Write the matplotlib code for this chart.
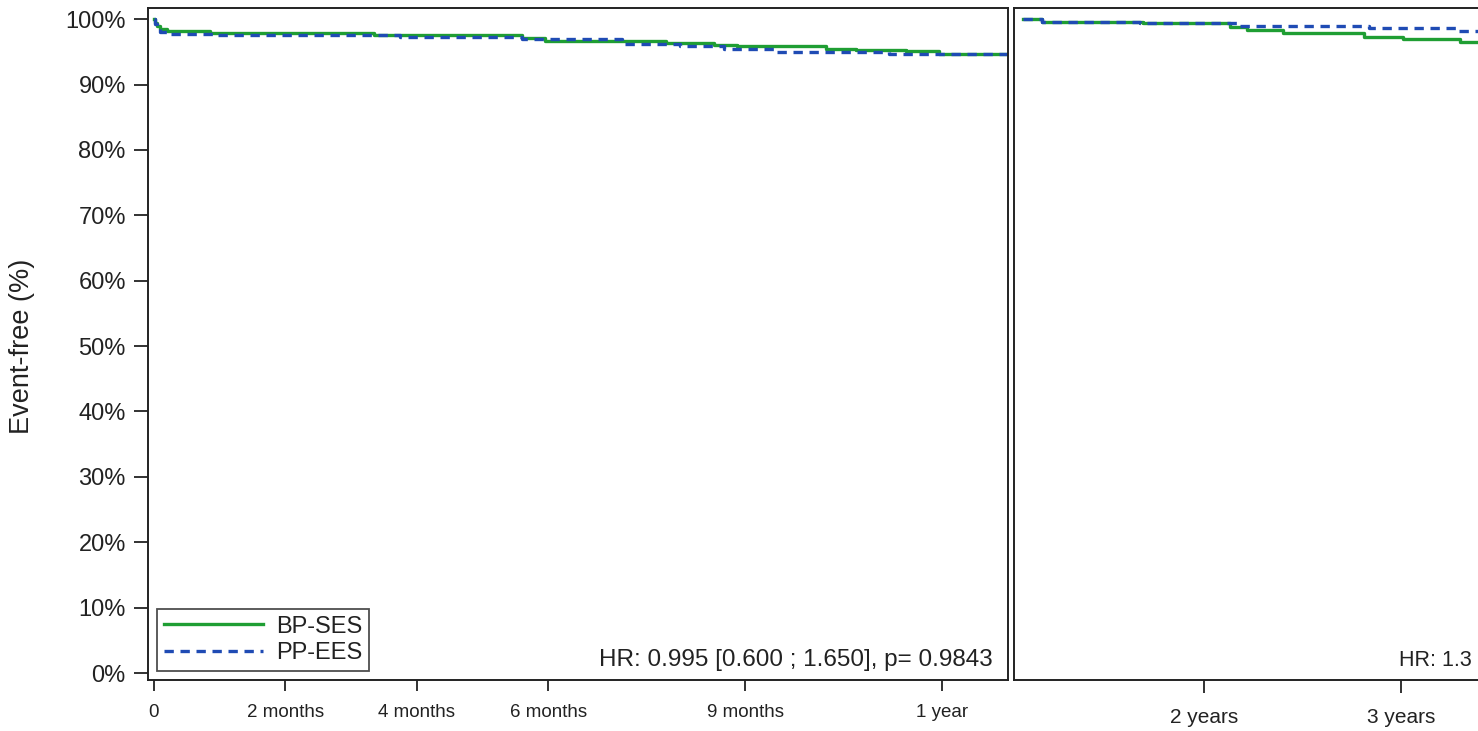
import matplotlib
matplotlib.use("Agg")
import matplotlib.pyplot as plt

plt.rcParams['font.family'] = ['Liberation Sans', 'DejaVu Sans']

# ---------------- data ----------------
# Left panel: time in months
ses_t_m = [0, 0.02, 0.05, 0.1, 0.2, 0.85, 3.35, 5.6, 5.95, 7.8, 8.53, 8.88, 10.23, 10.68, 11.44, 11.95, 13.0]
ses_s_m = [100, 99.4, 98.9, 98.5, 98.25, 97.85, 97.55, 97.15, 96.6, 96.3, 96.0, 95.85, 95.5, 95.3, 95.1, 94.65, 94.65]
ees_t_m = [0, 0.02, 0.05, 0.1, 0.25, 0.9, 3.75, 5.6, 7.13, 8.0, 8.68, 9.47, 11.19, 13.0]
ees_s_m = [100, 99.2, 98.6, 98.1, 97.7, 97.5, 97.2, 96.9, 96.2, 95.85, 95.45, 94.95, 94.7, 94.7]

# Right panel (landmark after 13 months): time in years
ses_t_y = [1.083, 1.18, 1.69, 2.13, 2.22, 2.40, 2.81, 3.01, 3.30, 4.0]
ses_s_y = [100, 99.6, 99.35, 98.85, 98.3, 97.9, 97.3, 96.9, 96.5, 96.5]
ees_t_y = [1.083, 1.18, 1.675, 2.18, 2.84, 3.28, 4.0]
ees_s_y = [100, 99.6, 99.35, 98.9, 98.7, 98.2, 98.2]

left_xticks = [0, 2, 4, 6, 9, 12]
left_xlabels = ["0", "2 months", "4 months", "6 months", "9 months", "1 year"]
right_xticks = [2, 3]
right_xlabels = ["2 years", "3 years"]
yticks = list(range(0, 101, 10))
ylabels = [f"{v}%" for v in yticks]

series_names = ["BP-SES", "PP-EES"]
hr_left = "HR: 0.995 [0.600 ; 1.650], p= 0.9843"
hr_right = "HR: 1.3"

GREEN = '#1F9E33'
BLUE = '#1F4BB4'
INK = '#222222'

W, H = 1478, 731
fig = plt.figure(figsize=(W / 100, H / 100), dpi=100)

def axrect(x0, y0, x1, y1):
    return [x0 / W, 1 - y1 / H, (x1 - x0) / W, (y1 - y0) / H]

ax1 = fig.add_axes(axrect(148, 8, 1008, 680))
ax2 = fig.add_axes(axrect(1014, 8, 1600, 680))

ylim = (-1.07, 101.7)
lw = 2.4

# left
l1, = ax1.plot(ses_t_m, ses_s_m, drawstyle='steps-post', color=GREEN, lw=lw, label=series_names[0])
l2, = ax1.plot(ees_t_m, ees_s_m, drawstyle='steps-post', color=BLUE, lw=lw, label=series_names[1])
l2.set_dashes([2.8, 2.0])
ax1.set_xlim(-0.09, 13.0)
ax1.set_ylim(*ylim)
ax1.set_xticks(left_xticks)
ax1.set_xticklabels(left_xlabels, fontsize=13.5)
ax1.set_yticks(yticks)
ax1.set_yticklabels(ylabels, fontsize=17)
ax1.tick_params(axis='y', length=10, width=1.3, pad=6, colors=INK, labelcolor=INK)
ax1.tick_params(axis='x', length=8, width=1.3, pad=9, colors=INK, labelcolor=INK)

# right
ax2.plot(ses_t_y, ses_s_y, drawstyle='steps-post', color=GREEN, lw=lw)
r2, = ax2.plot(ees_t_y, ees_s_y, drawstyle='steps-post', color=BLUE, lw=lw)
r2.set_dashes([2.8, 2.0])
ax2.set_xlim(1.036, 2 + (1600 - 1204) / 197)
ax2.set_ylim(*ylim)
ax2.set_yticks([])
ax2.set_xticks(right_xticks)
ax2.set_xticklabels(right_xlabels, fontsize=15)
ax2.tick_params(axis='x', length=9, width=1.3, pad=11, colors=INK, labelcolor=INK)

for ax in (ax1, ax2):
    for sp in ax.spines.values():
        sp.set_linewidth(1.4)
        sp.set_color(INK)

leg = ax1.legend(loc='lower left', bbox_to_anchor=(9 / 860, 9 / 672), borderaxespad=0,
                 fontsize=17, frameon=True, fancybox=False, edgecolor=INK,
                 handlelength=4.2, handletextpad=0.55, labelspacing=0.2, borderpad=0.28)
leg.get_frame().set_linewidth(1.3)
for t in leg.get_texts():
    t.set_color(INK)

ax1.text((993 - 148) / 860, (680 - 666) / 672, hr_left, transform=ax1.transAxes,
         ha='right', va='baseline', fontsize=17.5, color=INK)
ax2.text((1399 - 1014) / 586, (680 - 666) / 672, hr_right, transform=ax2.transAxes,
         ha='left', va='baseline', fontsize=15.5, color=INK)

fig.text(22 / W, 1 - 346 / H, "Event-free (%)", rotation=90, ha='center', va='center',
         fontsize=19.5, color=INK)

fig.savefig("out.png", dpi=100)
